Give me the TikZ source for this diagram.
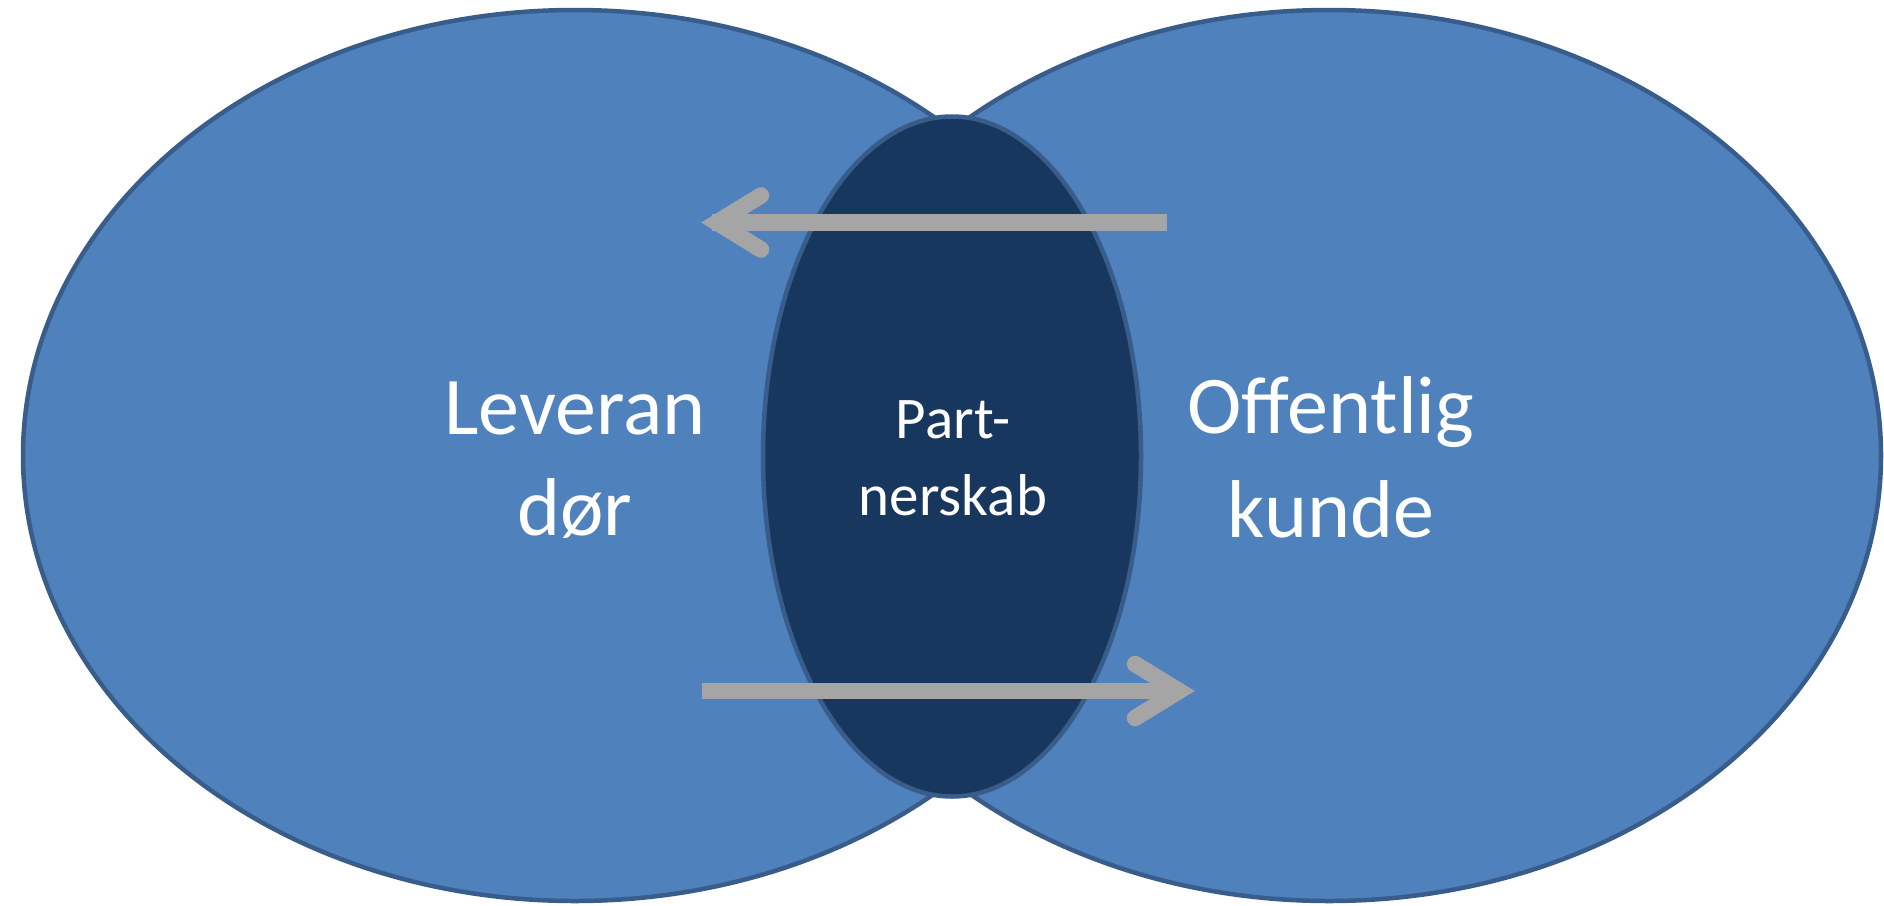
\documentclass[tikz,border=0pt]{standalone}
\usepackage{fontspec}
\setmainfont{Carlito}
\usetikzlibrary{shapes.geometric}
\definecolor{outerfill}{HTML}{4F81BD}
\definecolor{outerline}{HTML}{385D8A}
\definecolor{innerfill}{HTML}{17375E}
\definecolor{arrowgray}{HTML}{A5A5A5}
\tikzset{
  bigoval/.style={ellipse, draw=outerline, fill=outerfill, line width=4.5pt, inner sep=0pt, minimum width=1104pt, minimum height=891pt},
  midoval/.style={ellipse, draw=outerline, fill=innerfill, line width=4.5pt, inner sep=0pt, minimum width=378pt, minimum height=680pt},
  bigtext/.style={text=white, anchor=base, inner sep=0pt, font=\fontsize{82}{100}\selectfont},
  midtext/.style={text=white, anchor=base, inner sep=0pt, font=\fontsize{59}{77}\selectfont},
  shaft/.style={draw=arrowgray, line width=16.5pt, line cap=butt},
  headline/.style={draw=arrowgray, line width=16.5pt, line cap=round, line join=miter}
}
\begin{document}
\begin{tikzpicture}[x=1pt,y=-1pt]
\useasboundingbox (0,0) rectangle (1884,905);
\node[bigoval] (lev) at (575,455.5) {};
\node[bigoval] (kun) at (1329,455.5) {};
\node[midoval] (par) at (952,456.5) {};
% texts
\node[bigtext] (lev1) at (575,434) {Leveran};
\node[bigtext] (lev2) at (575,535) {dør};
\node[midtext] (par1) at (953,438) {Part-};
\node[midtext] (par2) at (953,515) {nerskab};
\node[bigtext] (kun1) at (1331,433) {Offentlig};
\node[bigtext] (kun2) at (1331,537) {kunde};
% top arrow (right to left)
\coordinate (tA) at (1167,222.5);
\coordinate (tB) at (712,222.5);
\coordinate (tV) at (717,222.5);
\coordinate (tU) at (761,195.5);
\coordinate (tD) at (761,249.5);
\draw[shaft] (tA) -- (tB);
\draw[headline] (tU) -- (tV) -- (tD);
% bottom arrow (left to right)
\coordinate (bA) at (702,691);
\coordinate (bB) at (1174,691);
\coordinate (bV) at (1179,691);
\coordinate (bU) at (1135,664);
\coordinate (bD) at (1135,718);
\draw[shaft] (bA) -- (bB);
\draw[headline] (bU) -- (bV) -- (bD);
\end{tikzpicture}
\end{document}
